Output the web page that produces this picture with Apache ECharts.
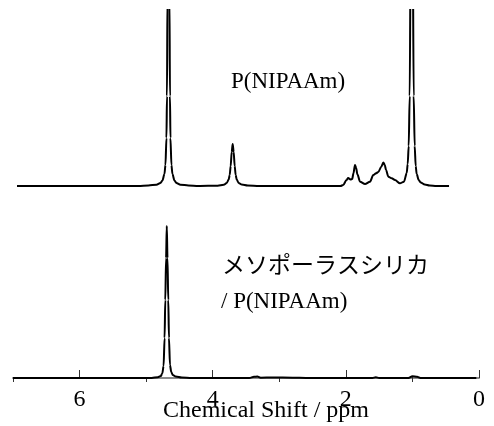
<!DOCTYPE html>
<html>
<head>
<meta charset="utf-8">
<script src="https://cdn.jsdelivr.net/npm/echarts@6/dist/echarts.min.js"></script>
<style>
html,body{margin:0;padding:0;background:#fff;}
#chart{width:494px;height:426px;}
</style>
</head>
<body>
<div id="chart"></div>
<script>
// Upper trace: P(NIPAAm) — chemical shift (ppm) and intensity
const upperPpm = [6.94,5.6,5.115,4.965,4.845,4.785,4.755,4.725,4.71,4.695,4.687,4.68,4.665,4.65,4.642,4.635,4.62,4.605,4.575,4.545,4.485,4.365,4.215,
  3.925,3.835,3.79,3.76,3.745,3.73,3.715,3.70,3.685,3.67,3.655,3.64,3.61,3.565,3.475,3.3,2.5,
  2.08,2.04,1.99,1.965,1.93,1.905,1.885,1.863,1.845,1.828,1.787,1.712,1.637,1.588,1.547,1.512,1.47,1.437,1.415,1.397,1.362,1.311,1.262,1.187,1.127,
  1.086,1.071,1.056,1.041,1.026,1.011,0.996,0.981,0.966,0.951,0.936,0.906,0.876,0.816,0.741,0.64,0.45];
const upperInt = [0,0,0,0.5,1.3,3,5.5,12,21,48,90,190,600,190,90,48,21,12,5.5,3,1.3,0.5,0,
  0.3,1.2,3,6.5,11,20,34,42,34,20,11,6.5,3,1.5,0.5,0,0,
  0,1,6,8,6.5,7,13,21,18,12,4.3,2,4.3,11,12.7,14,19,23.5,21,16,9.3,7.7,6,2.7,4.3,
  13,22,40,90,250,700,250,90,40,20,12,6,3.5,1.5,0.5,0,0];

// Lower trace: mesoporous silica / P(NIPAAm)
const lowerPpm = [7.0,5.5,4.915,4.825,4.78,4.7575,4.738,4.723,4.7125,4.7005,4.69,4.6795,4.6675,4.657,4.642,4.6225,4.6,4.555,4.465,4.315,
  3.45,3.38,3.33,3.28,3.1,2.8,2.6,1.6,1.55,1.5,1.06,1.0,0.93,0.88,0.04];
const lowerInt = [0,0,0,0.8,2,4.5,12,40,78,120,152,120,78,40,13,6,3,1.5,0.5,0,
  0,1.2,1.5,0.3,0.5,0.3,0,0,0.8,0,0,1.8,1.2,0,0];

const majorTicks = [0,2,4,6];
const minorTicks = [1,3,5,7];
const xTitle = 'Chemical Shift / ppm';
const upperLabel = 'P(NIPAAm)';
const lowerLabel1 = 'メソポーラスシリカ';
const lowerLabel2 = '/ P(NIPAAm)';

const zip = (a, b) => a.map((v, i) => [v, b[i]]);
const serif = '"Liberation Serif","DejaVu Serif",serif';
const jp = '"Liberation Serif","Noto Sans CJK JP",serif';

const chart = echarts.init(document.getElementById('chart'), null, {renderer: 'canvas'});
const option = {
  animation: false,
  backgroundColor: '#fff',
  grid: [
    {left: 13, right: 15, top: 10, bottom: 236, outerBoundsMode: 'none', containLabel: false},
    {left: 13, right: 15, top: 210, bottom: 44, outerBoundsMode: 'none', containLabel: false}
  ],
  xAxis: [
    {gridIndex: 0, type: 'value', min: 0, max: 7, inverse: true, show: false},
    {gridIndex: 1, type: 'value', min: 0, max: 7, inverse: true, position: 'bottom',
      axisLine: {show: true, lineStyle: {color: '#8a8a8a', width: 2}},
      axisTick: {show: true, inside: true, length: 8, customValues: majorTicks, lineStyle: {color: '#333', width: 1}},
      axisLabel: {show: true, customValues: majorTicks, margin: 6, fontFamily: serif, fontSize: 24, color: '#000'},
      splitLine: {show: false}
    },
    {gridIndex: 1, type: 'value', min: 0, max: 7, inverse: true, position: 'bottom',
      axisLine: {show: false},
      axisTick: {show: true, inside: true, length: 5, customValues: minorTicks, lineStyle: {color: '#333', width: 1}},
      axisLabel: {show: false},
      splitLine: {show: false}
    }
  ],
  yAxis: [
    {gridIndex: 0, type: 'value', min: -4, max: 176, show: false},
    {gridIndex: 1, type: 'value', min: -4, max: 168, show: false}
  ],
  series: [
    {type: 'line', xAxisIndex: 0, yAxisIndex: 0, data: zip(upperPpm, upperInt), showSymbol: false,
      smooth: 0.3, smoothMonotone: 'x', clip: true, lineStyle: {color: '#000', width: 2}},
    {type: 'line', xAxisIndex: 1, yAxisIndex: 1, data: zip(lowerPpm, lowerInt), showSymbol: false,
      smooth: 0.3, smoothMonotone: 'x', clip: true, lineStyle: {color: '#000', width: 2}}
  ],
  graphic: [
    {type: 'text', left: 231, top: 70, style: {text: upperLabel, font: '23px ' + serif, fill: '#000'}},
    {type: 'text', left: 222, top: 255, style: {text: lowerLabel1, font: '23px ' + jp, fill: '#000'}},
    {type: 'text', left: 221, top: 290, style: {text: lowerLabel2, font: '23px ' + serif, fill: '#000'}},
    {type: 'text', left: 163, top: 399, style: {text: xTitle, font: '24px ' + serif, fill: '#000'}}
  ]
};
chart.setOption(option);
</script>
</body>
</html>
